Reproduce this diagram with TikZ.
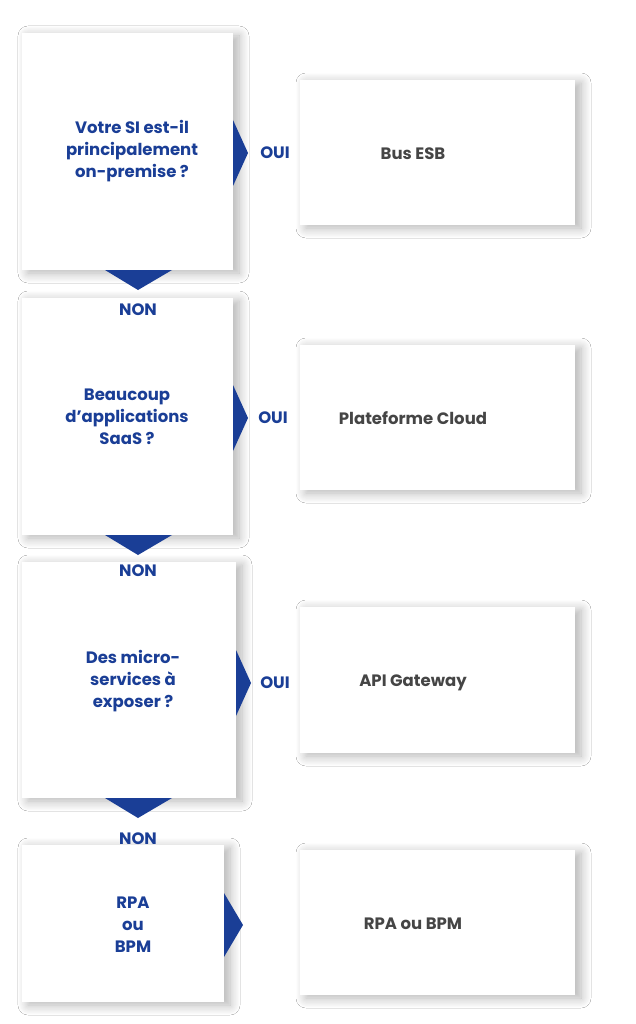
\documentclass[tikz,border=0pt]{standalone}
\usepackage{fontspec}
\setmainfont{Poppins}
\usetikzlibrary{shadows.blur}
\definecolor{navy}{HTML}{1A3E96}
\definecolor{txtgrey}{HTML}{454545}
\tikzset{
  card/.style={fill=white, blur shadow={shadow xshift=6pt, shadow yshift=-3pt, shadow blur steps=10, shadow blur radius=10pt, shadow opacity=30}},
  pointer/.style={fill=navy},
  asklabel/.style={text=navy, font=\bfseries\fontsize{16.5}{22}\selectfont, align=center},
  anslabel/.style={text=txtgrey, font=\bfseries\fontsize{16.5}{22}\selectfont, align=center},
}
\begin{document}
\begin{tikzpicture}[x=1pt,y=-1pt]
  \useasboundingbox[fill=white] (0,0) rectangle (636,1024);
  % left column
  \path[card] (22,33) rectangle (233,270);
  \path[card] (22,298) rectangle (233,535);
  \path[card] (22,562) rectangle (236,798);
  \path[card] (22,845) rectangle (224,1002);
  % right column
  \path[card] (300,80) rectangle (575,225);
  \path[card] (300,345) rectangle (575,490);
  \path[card] (300,607) rectangle (575,753);
  \path[card] (300,850) rectangle (575,995);
  % arrows
  \fill[pointer] (233,120) -- (248,153) -- (233,186) -- cycle;
  \fill[pointer] (233,385) -- (248,418) -- (233,451) -- cycle;
  \fill[pointer] (236,650) -- (251,683) -- (236,716) -- cycle;
  \fill[pointer] (224,893) -- (243,925) -- (224,957) -- cycle;
  \fill[pointer] (105,270) -- (172,270) -- (138,290) -- cycle;
  \fill[pointer] (105,535) -- (172,535) -- (138,555) -- cycle;
  \fill[pointer] (105,798) -- (172,798) -- (138,818) -- cycle;
  % texts
  \node[asklabel] (q1) at (132,151) {Votre SI est-il\\principalement\\on-premise ?};
  \node[asklabel] (q2) at (127,417) {Beaucoup\\d’applications\\SaaS ?};
  \node[asklabel] (q3) at (133,681) {Des micro-\\services à\\exposer ?};
  \node[asklabel] (q4) at (133,925) {RPA\\ou\\BPM};
  \node[asklabel] (y1) at (275,153) {OUI};
  \node[asklabel] (y2) at (273,418) {OUI};
  \node[asklabel] (y3) at (275,683) {OUI};
  \node[asklabel] (n1) at (138,310) {NON};
  \node[asklabel] (n2) at (138,571) {NON};
  \node[asklabel] (n3) at (138,839) {NON};
  \node[anslabel] (a1) at (413,154) {Bus ESB};
  \node[anslabel] (a2) at (413,418) {Plateforme Cloud};
  \node[anslabel] (a3) at (413,683) {API Gateway};
  \node[anslabel] (a4) at (413,924) {RPA ou BPM};
\end{tikzpicture}
\end{document}
